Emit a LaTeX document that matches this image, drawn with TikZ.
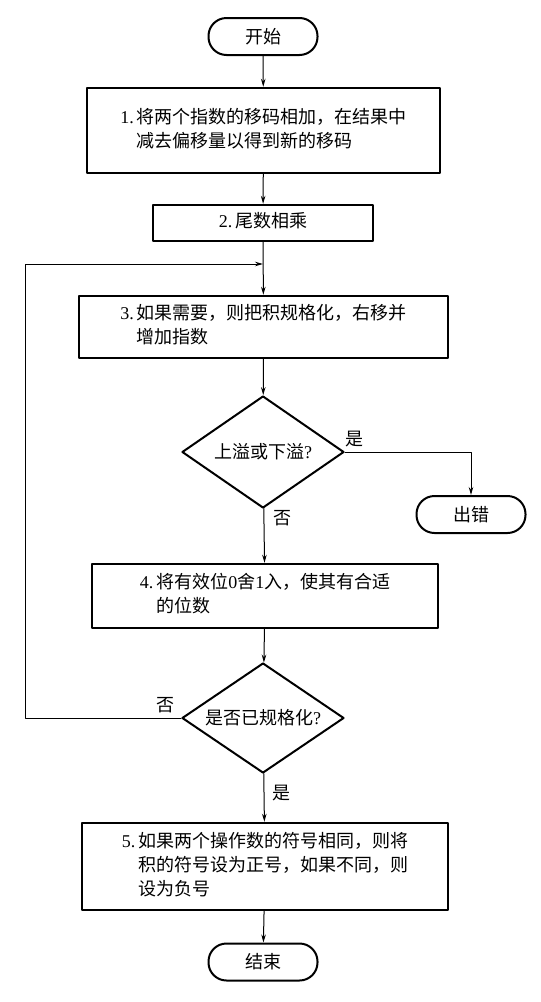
\documentclass[tikz,border=0pt]{standalone}
\usepackage{fontspec}
\setmainfont{Noto Sans CJK SC}
\newfontfamily\numfont{Liberation Serif}
\usetikzlibrary{arrows.meta,shapes.geometric}

% numbered step text, later lines hang under the first word
\newcommand{\flowtext}[2]{\begin{tabular}{@{}l@{\,}l@{}}{\numfont #1.}&#2\end{tabular}}

\begin{document}
\begin{tikzpicture}[x=1pt,y=-1pt,line cap=round,line join=round,
  font=\fontsize{18pt}{24pt}\selectfont,
  stepbox/.style={draw,line width=2.4pt,inner sep=0pt},
  termbox/.style={draw,line width=2pt,rounded corners=18pt,minimum width=109pt,minimum height=37pt,inner sep=0pt},
  testbox/.style={draw,diamond,line width=2pt,aspect=1.45,minimum width=162pt,minimum height=112pt,inner sep=0pt},
  flowline/.style={line width=1pt,-{Stealth[length=8pt,width=4.5pt]}}]
		\useasboundingbox (0,0) rectangle (541,1002);
		% terminals
		\node[termbox] (start) at (263,36.5) {开始};
		\node[termbox] (err) at (471,514.5) {出错};
		\node[termbox] (finish) at (263,962) {结束};
		% steps
		\node[stepbox,minimum width=353pt,minimum height=85pt] (exp) at (263.5,130.5)
			{\flowtext{1}{将两个指数的移码相加，在结果中\\&减去偏移量以得到新的移码}};
		\node[stepbox,minimum width=220pt,minimum height=36pt] (mant) at (263,223)
			{\flowtext{2}{尾数相乘}};
		\node[stepbox,minimum width=369pt,minimum height=62pt] (norm) at (263.5,327)
			{\flowtext{3}{如果需要，则把积规格化，右移并\\&增加指数}};
		\node[stepbox,minimum width=346pt,minimum height=64pt] (round) at (265,596)
			{\flowtext{4}{将有效位{\numfont 0}舍{\numfont 1}入，使其有合适\\&的位数}};
		\node[stepbox,minimum width=366pt,minimum height=87pt] (sign) at (265,866.5)
			{\flowtext{5}{如果两个操作数的符号相同，则将\\&积的符号设为正号，如果不同，则\\&设为负号}};
		% tests
		\node[testbox] (ovf) at (263,452) {上溢或下溢{\numfont ?}};
		\node[testbox,minimum height=110pt] (isnorm) at (263,718) {是否已规格化{\numfont ?}};
		% labels
		\node (ovfyes) at (354,439) {是};
		\node (ovfno) at (282,518) {否};
		\node (normno) at (165,705) {否};
		\node (normyes) at (281,793) {是};
		% connectors
		\coordinate (merge) at (263,264);
		\coordinate (loopbot) at (25,718);
		\draw[flowline] (start) -- (exp);
		\draw[flowline] (exp) -- (mant);
		\draw[flowline] (mant) -- (norm);
		\draw[flowline] (norm) -- (ovf);
		\draw[flowline] (ovf.east) -| (err.north);
		\draw[flowline] (ovf) -- (round);
		\draw[flowline] (round) -- (isnorm);
		\draw[flowline] (isnorm.west) -- (loopbot) |- (merge);
		\draw[flowline] (isnorm) -- (sign);
		\draw[flowline] (sign) -- (finish);
\end{tikzpicture}
\end{document}
